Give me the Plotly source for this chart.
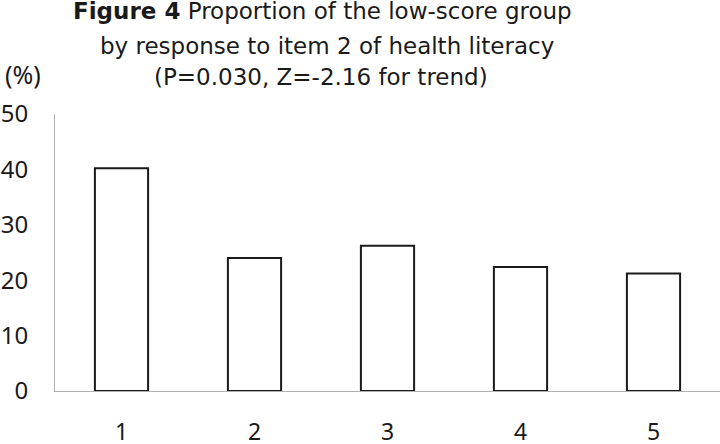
import plotly.graph_objects as go

categories = ["1", "2", "3", "4", "5"]
values = [40.2, 24.0, 26.2, 22.4, 21.2]
y_ticks = [0, 10, 20, 30, 40, 50]
title_lines = [
    "<b>Figure 4</b> Proportion of the low-score group",
    "by response to item 2 of health literacy",
    "(P=0.030, Z=-2.16 for trend)",
]

TICK_FONT = "Noto Sans"
TITLE_FONT = "DejaVu Sans"
TXT = "#1a1a1a"

fig = go.Figure()
fig.add_trace(go.Bar(
    x=categories, y=values,
    marker=dict(color="white", line=dict(color="#1a1a1a", width=2)),
    width=0.4,
))

W, H = 720, 444
ml, mr, mt, mb = 55, 0, 114, 53
pw, ph = W - ml - mr, H - mt - mb


def px_x(x):
    return (x - ml) / pw


def px_y(y):
    return 1 - (y - mt) / ph


annotations = []
title_centers_x = [322, 327, 321]
title_centers_y = [11, 46, 77]
for txt, cx, cy in zip(title_lines, title_centers_x, title_centers_y):
    annotations.append(dict(
        text=txt, xref="paper", yref="paper",
        x=px_x(cx), xanchor="center", y=px_y(cy), yanchor="middle",
        showarrow=False, font=dict(family=TITLE_FONT, size=23, color=TXT),
    ))
annotations.append(dict(
    text="(%)", xref="paper", yref="paper",
    x=px_x(3), xanchor="left", y=px_y(74), yanchor="middle",
    showarrow=False, font=dict(family=TICK_FONT, size=25, color=TXT),
))

fig.update_layout(
    width=W, height=H,
    margin=dict(l=ml, r=mr, t=mt, b=mb, autoexpand=False),
    paper_bgcolor="white", plot_bgcolor="white",
    showlegend=False,
    font=dict(family=TICK_FONT, size=24, color=TXT),
    xaxis=dict(
        type="category", automargin=False,
        showline=True, linecolor="#b0b0b0", linewidth=1,
        showgrid=False, ticks="", ticklabelstandoff=20,
        tickfont=dict(family=TICK_FONT, size=23, color=TXT),
    ),
    yaxis=dict(
        range=[0, 50], tickvals=y_ticks, automargin=False,
        showline=True, linecolor="#b0b0b0", linewidth=1,
        showgrid=False, zeroline=False, ticks="", ticklabelstandoff=21,
        tickfont=dict(family=TICK_FONT, size=24, color=TXT),
    ),
    annotations=annotations,
)

fig.write_html(
    "out.html",
    config={"displayModeBar": False},
    post_script="document.body.style.margin='0';",
)
